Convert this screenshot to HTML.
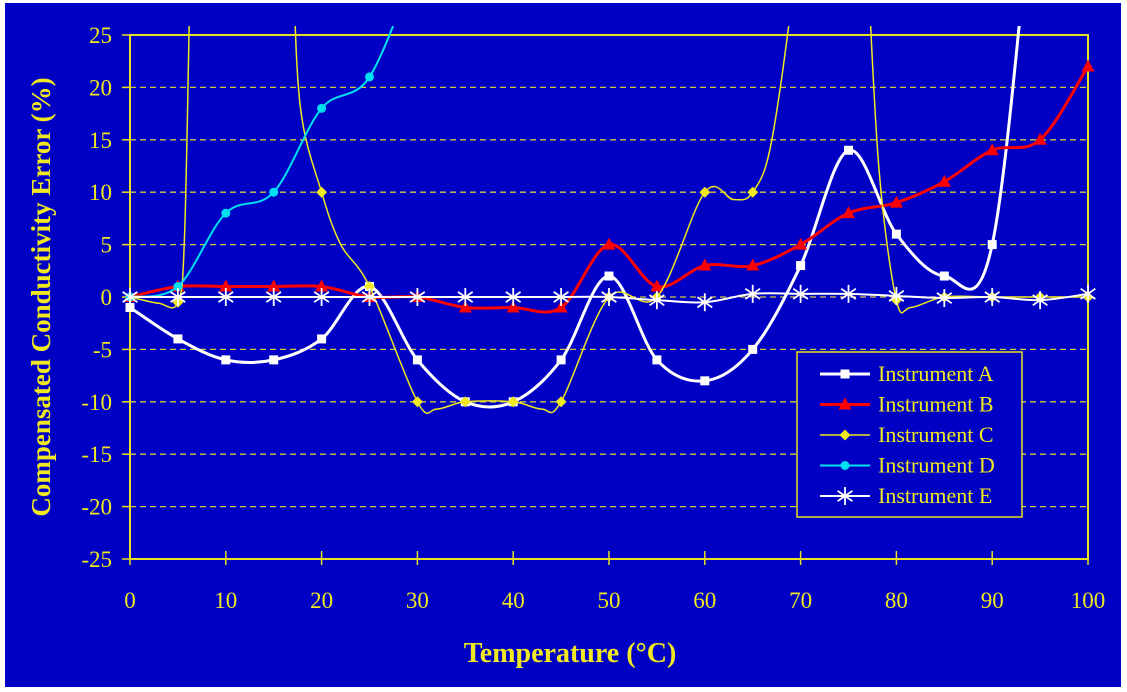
<!DOCTYPE html>
<html><head><meta charset="utf-8"><style>
html,body{margin:0;padding:0;background:#fff;}
svg{display:block;}
</style></head><body>
<svg id="s" width="1127" height="692" xmlns="http://www.w3.org/2000/svg" font-family="Liberation Serif, serif">
<rect x="5" y="3" width="1116" height="684" fill="#0000c4"/>
<defs><clipPath id="c"><rect x="5" y="26" width="1116" height="560"/></clipPath></defs>
<g id="grid" stroke="#d0c840" stroke-width="1.3" stroke-dasharray="6,4"></g>
<rect x="130" y="35" width="958" height="524" fill="none" stroke="#e8e020" stroke-width="2"/>
<g id="ticks" stroke="#e8e020" stroke-width="1.5"></g>
<g id="labels" fill="#f0e820" font-size="23"></g>
<g id="series" clip-path="url(#c)"></g>
<text x="570" y="662" fill="#f0e820" font-size="28" font-weight="bold" text-anchor="middle">Temperature (°C)</text>
<text transform="translate(50,297) rotate(-90)" fill="#f0e820" font-size="27" font-weight="bold" text-anchor="middle">Compensated Conductivity Error (%)</text>
<rect x="797" y="352" width="225" height="165" fill="#0000c4" stroke="#e8e020" stroke-width="1.5"/>
<g id="leg" font-size="22" fill="#f0e820"></g>
</svg>
<script>
const NS="http://www.w3.org/2000/svg";
const X=t=>130+t*9.58, Y=v=>297-v*10.48;
function el(p,n,a,txt){const e=document.createElementNS(NS,n);for(const k in a)e.setAttribute(k,a[k]);if(txt!==undefined)e.textContent=txt;document.getElementById(p).appendChild(e);return e;}
for(let v=-20;v<=20;v+=5){el('grid','line',{x1:130,x2:1088,y1:Y(v),y2:Y(v)});}
for(let v=-25;v<=25;v+=5){el('ticks','line',{x1:122,x2:130,y1:Y(v),y2:Y(v)});el('labels','text',{x:112,y:Y(v)+8,'text-anchor':'end'},v);}
for(let t=0;t<=100;t+=10){el('ticks','line',{x1:X(t),x2:X(t),y1:551,y2:565});el('labels','text',{x:X(t),y:608,'text-anchor':'middle'},t);}
function path(pts){let d=`M${X(pts[0][0])},${Y(pts[0][1])}`;const P=pts.map(p=>[X(p[0]),Y(p[1])]);
for(let i=0;i<P.length-1;i++){const p0=P[i-1]||P[i],p1=P[i],p2=P[i+1],p3=P[i+2]||p2;
d+=`C${p1[0]+(p2[0]-p0[0])/6},${p1[1]+(p2[1]-p0[1])/6} ${p2[0]-(p3[0]-p1[0])/6},${p2[1]-(p3[1]-p1[1])/6} ${p2[0]},${p2[1]}`;}return d;}
function marker(g,type,x,y,col){
 if(type=='sq')el(g,'rect',{x:x-4.5,y:y-4.5,width:9,height:9,fill:col});
 else if(type=='tri')el(g,'polygon',{points:`${x},${y-7} ${x+6.5},${y+5} ${x-6.5},${y+5}`,fill:col});
 else if(type=='dia')el(g,'polygon',{points:`${x},${y-5.5} ${x+5.5},${y} ${x},${y+5.5} ${x-5.5},${y}`,fill:col});
 else if(type=='cir')el(g,'circle',{cx:x,cy:y,r:4.5,fill:col});
 else if(type=='ast'){for(const a of [90,35,145]){const r=a*Math.PI/180;el(g,'line',{x1:x-9*Math.cos(r),y1:y-9*Math.sin(r),x2:x+9*Math.cos(r),y2:y+9*Math.sin(r),stroke:col,'stroke-width':1.8});}}
}
const S=[
 {n:'Instrument A',c:'#ffffff',w:3,m:'sq',d:[[0,-1],[5,-4],[10,-6],[15,-6],[20,-4],[25,1],[30,-6],[35,-10],[40,-10],[45,-6],[50,2],[55,-6],[60,-8],[65,-5],[70,3],[75,14],[80,6],[85,2],[90,5],[95,45],[100,80]]},
 {n:'Instrument B',c:'#ff0000',w:3,m:'tri',d:[[0,0],[5,1],[10,1],[15,1],[20,1],[25,0],[30,0],[35,-1],[40,-1],[45,-1],[50,5],[55,1],[60,3],[65,3],[70,5],[75,8],[80,9],[85,11],[90,14],[95,15],[100,22]]},
 {n:'Instrument C',c:'#f0e820',w:1.5,m:'dia',
  d:[[0,0],[3,-0.6],[5,-0.5],[5.7,6],[6.3,32],[6.6,45]],
  d2:[[16.5,45],[17,32],[17.8,18],[20,10],[22,5],[25,1],[30,-10],[32,-10.7],[35,-10],[40,-10],[43,-10.7],[45,-10],[50,0],[55,0],[60,10],[63,9.3],[65,10],[67,15],[69.5,32],[70,45]],
  d3:[[76.5,45],[77,32],[78.2,12],[80,-0.3],[81.5,-1],[85,0],[90,0],[95,0],[100,0]],
  mk:[[0,0],[5,-0.5],[20,10],[25,1],[30,-10],[35,-10],[40,-10],[45,-10],[50,0],[55,0],[60,10],[65,10],[80,-0.3],[85,0],[90,0],[95,0],[100,0]]},
 {n:'Instrument D',c:'#00e0f0',w:2,m:'cir',d:[[0,0],[5,1],[10,8],[15,10],[20,18],[25,21],[30,32]]},
 {n:'Instrument E',c:'#ffffff',w:2,m:'ast',d:[[0,0],[5,0],[10,0],[15,0],[20,0],[25,0],[30,0],[35,0],[40,0],[45,0],[50,0],[55,-0.3],[60,-0.5],[65,0.3],[70,0.3],[75,0.3],[80,0.1],[85,-0.1],[90,0],[95,-0.3],[100,0.3]]}
];
S.forEach((s,i)=>{
 for(const d of [s.d,s.d2,s.d3]) if(d) el('series','path',{d:path(d),fill:'none',stroke:s.c,'stroke-width':s.w});
 (s.mk||s.d).forEach(p=>{if(p[1]>25)return;marker('series',s.m,X(p[0]),Y(p[1]),s.c);});
 const y=374+i*30.5;
 el('leg','line',{x1:820,x2:870,y1:y,y2:y,stroke:s.c,'stroke-width':s.w});
 marker('leg',s.m,845,y,s.c);
 el('leg','text',{x:878,y:y+7},s.n);
});
</script>
</body></html>
